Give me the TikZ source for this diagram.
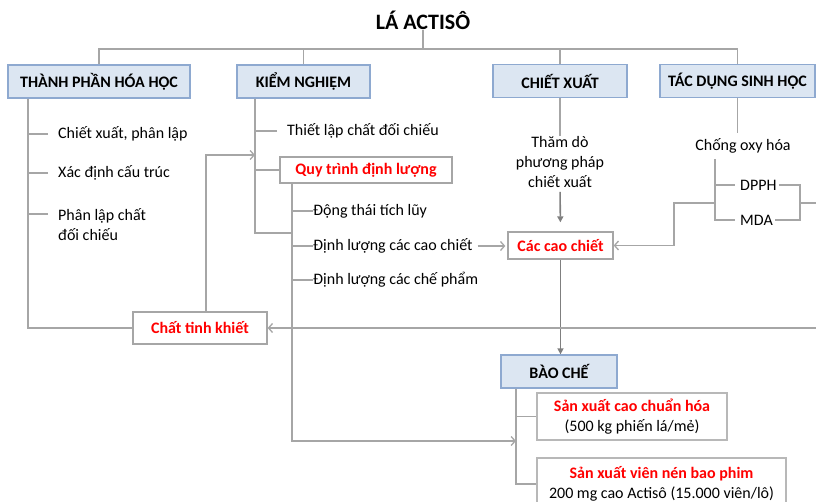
\documentclass[tikz,border=0pt]{standalone}
\usepackage{fontspec}
\setmainfont{Carlito}
\usepackage{tikz}
\usetikzlibrary{arrows.meta,positioning}
\definecolor{lngrey}{HTML}{A6A6A6}
\definecolor{arrgrey}{HTML}{7F7F7F}
\definecolor{hdrfill}{HTML}{DCE6F2}
\definecolor{hdrline}{HTML}{8EA9D0}
\definecolor{ptred}{HTML}{FF0000}

\begin{document}
\begin{tikzpicture}[x=1pt, y=-1pt,
  every node/.style={font=\fontsize{16}{20}\selectfont, inner sep=0pt, align=center},
  hdr/.style={draw=hdrline, fill=hdrfill, line width=1.3pt, minimum height=33pt,
              font=\fontsize{16}{20}\selectfont\bfseries},
  redbox/.style={draw=lngrey, line width=1.3pt, fill=white,
                 font=\fontsize{16}{20}\selectfont\bfseries, text=ptred},
  outbox/.style={draw=lngrey!80, line width=1.3pt, fill=white},
  item/.style={anchor=west, align=left},
  ln/.style={draw=lngrey, line width=1.3pt},
  arr/.style={ln, -{Straight Barb[length=4pt,width=9pt]}},
  darr/.style={draw=arrgrey, line width=1.6pt, -{Triangle[length=6pt,width=6pt]}},
]
  \useasboundingbox (0,0) rectangle (816,502);

  % Title and the four main branches
  \node[font=\fontsize{22}{26}\selectfont\bfseries] (title) at (423,20) {LÁ ACTISÔ};
  \node[hdr, minimum width=182pt] (tp) at (99,81.5)  {THÀNH PHẦN HÓA HỌC};
  \node[hdr, minimum width=133pt] (kn) at (303.5,81.5) {KIỂM NGHIỆM};
  \node[hdr, minimum width=134pt] (cx) at (560,81)  {CHIẾT XUẤT};
  \node[hdr, minimum width=155pt] (td) at (737.5,81) {TÁC DỤNG SINH HỌC};
  \node[hdr, minimum width=116pt] (bc) at (559,371.5) {BÀO CHẾ};

  % Boxes with red titles
  \node[redbox, minimum width=172pt, minimum height=26pt] (qt)  at (366,170)    {Quy trình định lượng};
  \node[redbox, minimum width=105pt, minimum height=27pt] (ccc) at (560.5,245.5) {Các cao chiết};
  \node[redbox, minimum width=134pt, minimum height=32pt] (ctk) at (200,328)    {Chất tinh khiết};
  \node[outbox, minimum width=190pt, minimum height=47pt] (sx1) at (632,416.5)
    {\textcolor{ptred}{\bfseries Sản xuất cao chuẩn hóa}\\(500 kg phiến lá/mẻ)};
  \node[outbox, minimum width=249pt, minimum height=52pt] (sx2) at (661.5,484)
    {\textcolor{ptred}{\bfseries Sản xuất viên nén bao phim}\\200 mg cao Actisô (15.000 viên/lô)};

  % Plain text items
  \node[item] (i1) at (58,134)   {Chiết xuất, phân lập};
  \node[item] (i2) at (58,173)   {Xác định cấu trúc};
  \node[item] (i3) at (58,224.5) {Phân lập chất\\đối chiếu};
  \node[item] (k1) at (287,131)  {Thiết lập chất đối chiếu};
  \node[item] (d1) at (313,211)  {Động thái tích lũy};
  \node[item] (d2) at (313,246)  {Định lượng các cao chiết};
  \node[item] (d3) at (313,280)  {Định lượng các chế phẩm};
  \node (cxt) at (560,162) {Thăm dò\\phương pháp\\chiết xuất};
  \node (co)  at (743,146) {Chống oxy hóa};
  \node[item] (dpph) at (740,185) {DPPH};
  \node[item] (mda)  at (740,220) {MDA};

  % Junctions
  \coordinate (bus)    at (423,49);
  \coordinate (tpx)    at (28,0);
  \coordinate (knx)    at (255,0);
  \coordinate (qtx)    at (292,0);
  \coordinate (bcx)    at (516,0);
  \coordinate (aox)    at (715,0);
  \coordinate (fb)     at (255,155);
  \coordinate (knend)  at (292,233);
  \coordinate (bcin)   at (516,441);
  \coordinate (aoxtop) at (715,159);
  \coordinate (brx)    at (800,203);
  \coordinate (redge)  at (816,328);
  \coordinate (redge2) at (816,203);

  % Title bus
  \draw[ln] (title.south) -- (bus);
  \draw[ln] (tp.north) |- (td.north |- bus) -- (td.north);
  \draw[ln] (kn.north) -- (kn.north |- bus);
  \draw[ln] (cx.north) -- (cx.north |- bus);

  % Left branch
  \draw[ln] (tp.south -| tpx) |- (ctk.west);
  \foreach \n in {i1,i2}
    \draw[ln] (\n.west) ++(-10,0) -- (\n.west -| tpx);
  \draw[ln] ([yshift=10.5pt]i3.west) ++(-10,0) -- ++(-20,0);

  % Kiem nghiem branch
  \draw[ln] (kn.south -| knx) |- (knend);
  \draw[ln] (k1.west) ++(-10,0) -- (k1.west -| knx);
  \draw[ln] (qt.west) -- (qt.west -| knx);
  \draw[arr] ([xshift=6pt]ctk.north) |- (fb);
  \draw[arr] (qt.south -| qtx) |- (bcin);
  \foreach \n in {d1,d2,d3}
    \draw[ln] (\n.west) -- (\n.west -| qtx);
  \draw[arr, shorten >=2pt] ([xshift=5pt]d2.east) -- (d2.east -| ccc.west);

  % Chiet xuat branch
  \draw[ln] (cx.south) -- (cxt.north);
  \draw[darr, shorten <=4pt, shorten >=9pt] (cxt.south) -- (ccc.north);
  \draw[darr] (ccc.south) -- (ccc.south |- bc.north);

  % Tac dung sinh hoc branch
  \draw[ln, shorten >=5pt] (td.south) -- (td.south |- co.north);
  \draw[ln] (aoxtop) |- ([xshift=-5pt]mda.west);
  \draw[ln] (dpph.west -| aox) -- ([xshift=-5pt]dpph.west);
  \draw[ln] ([xshift=2pt]dpph.east) -| (brx) |- ([xshift=2pt]mda.east);
  \draw[ln] (brx) -- (redge2);
  \draw[arr] (aox |- brx) -- ++(-41,0) |- (ccc.east);
  \draw[arr] (redge) -- (redge -| ctk.east);

  % Bao che branch
  \draw[ln] (bc.south -| bcx) |- (sx2.west);
  \draw[ln] (sx1.west -| bcx) -- (sx1.west);
\end{tikzpicture}
\end{document}
